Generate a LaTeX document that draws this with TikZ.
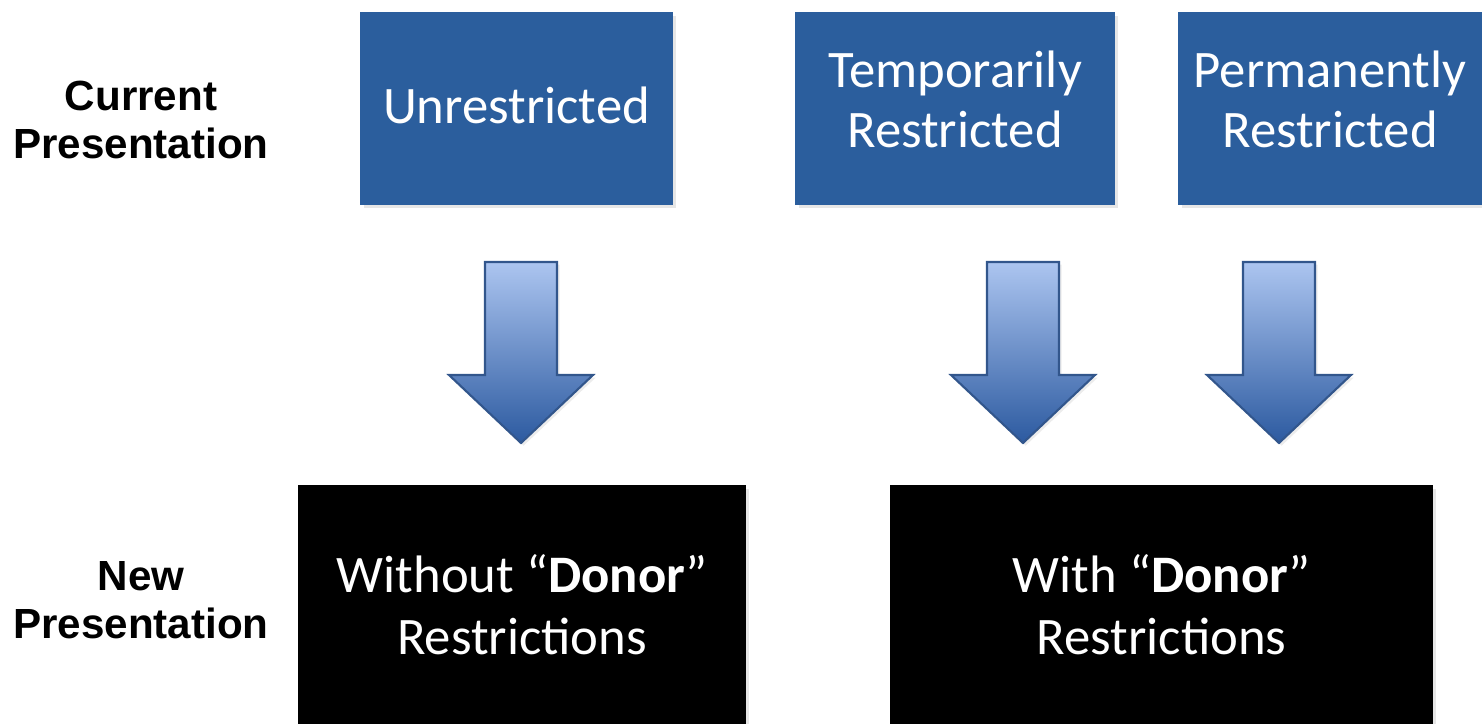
\documentclass[tikz,border=0pt]{standalone}
\usepackage{fontspec}
\setmainfont{Carlito}
\newfontfamily\labelfont{Liberation Sans}
\usepackage{tikz}
\usetikzlibrary{shadows}
\definecolor{boxblue}{RGB}{43,94,157}
\definecolor{arrowtop}{RGB}{172,197,240}
\definecolor{arrowbot}{RGB}{44,90,160}
\definecolor{arrowline}{RGB}{50,86,140}

\begin{document}
\begin{tikzpicture}[x=0.02cm, y=-0.02cm,
    catbox/.style={fill=boxblue, text=white, align=center, inner sep=0pt,
      minimum height=3.86cm, font=\fontsize{30}{34}\selectfont,
      drop shadow={shadow xshift=2pt, shadow yshift=-2pt, opacity=.2}},
    newbox/.style={fill=black, text=white, align=center, inner sep=0pt,
      minimum height=4.78cm, font=\fontsize{30}{35}\selectfont,
      drop shadow={shadow xshift=2pt, shadow yshift=-2pt, opacity=.2}},
    rowlabel/.style={align=center, inner sep=0pt,
      font=\labelfont\bfseries\fontsize{24}{27.5}\selectfont},
    blockarrow/.style={draw=arrowline, line width=1.2pt, line join=miter,
      top color=arrowtop, bottom color=arrowbot,
      drop shadow={shadow xshift=1.5pt, shadow yshift=-1.5pt, opacity=.15}}]
  \useasboundingbox (0,0) rectangle (1482,724);

  % row labels
  \node[rowlabel] (current) at (141,120) {Current\\Presentation};
  \node[rowlabel] (new) at (141,600) {New\\Presentation};

  % current presentation
  \node[catbox, minimum width=6.26cm, text depth=4pt] (unres) at (516.5,108.5) {Unrestricted};
  \node[catbox, minimum width=6.4cm, text depth=11pt] (temp) at (955,108.5) {Temporarily\\Restricted};
  \node[catbox, minimum width=6.08cm, text depth=11pt] (perm) at (1330,108.5) {Permanently\\Restricted};

  % new presentation
  \node[newbox, minimum width=8.96cm] (without) at (522,604.5)
    {Without “\textbf{Donor}”\\Restrictions};
  \node[newbox, minimum width=10.86cm] (with) at (1161.5,604.5)
    {With “\textbf{Donor}”\\Restrictions};

  % block arrows
  \foreach \cx in {521,1023,1279}
    \draw[blockarrow] (\cx-36,262) -- (\cx+36,262) -- (\cx+36,375) -- (\cx+72,375)
      -- (\cx,443) -- (\cx-72,375) -- (\cx-36,375) -- cycle;
\end{tikzpicture}
\end{document}
